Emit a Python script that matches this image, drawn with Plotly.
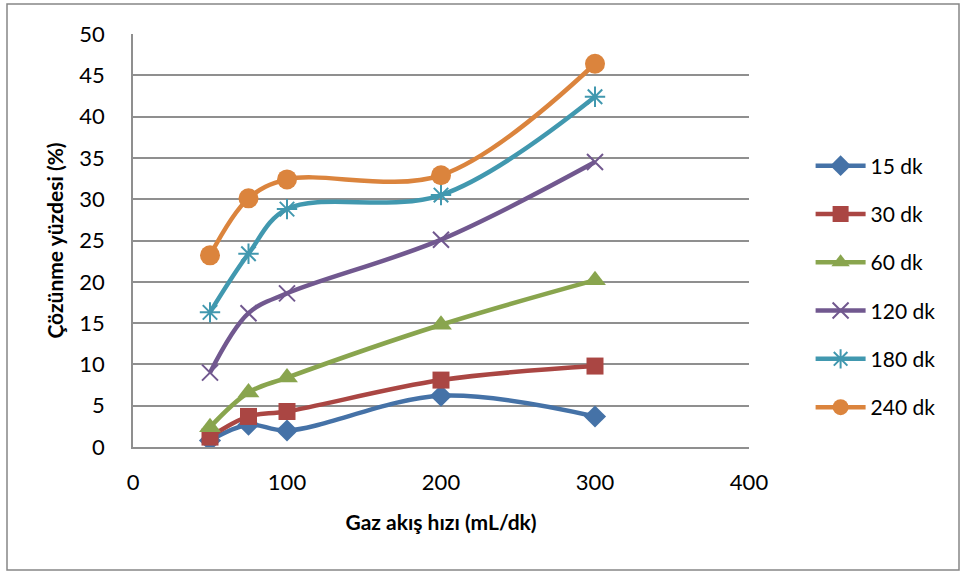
import plotly.graph_objects as go

x_vals = [50, 75, 100, 200, 300]
series_names = ["15 dk", "30 dk", "60 dk", "120 dk", "180 dk", "240 dk"]
y_15 = [0.8, 2.7, 2.0, 6.2, 3.7]
y_30 = [1.2, 3.7, 4.3, 8.1, 9.8]
y_60 = [2.4, 6.6, 8.4, 14.8, 20.2]
y_120 = [9.0, 16.2, 18.6, 25.1, 34.5]
y_180 = [16.3, 23.4, 28.8, 30.5, 42.4]
y_240 = [23.2, 30.1, 32.4, 32.9, 46.4]

colors = ["#4572A7", "#AA4643", "#89A54E", "#71588F", "#4198AF", "#DB843D"]
symbols = ["diamond", "square", "triangle-up", "x-thin-open", "asterisk-open", "circle"]
sizes = [17, 17, 19, 16, 17, 20]

fig = go.Figure()
for i, (name, ys) in enumerate(zip(series_names, [y_15, y_30, y_60, y_120, y_180, y_240])):
    open_sym = symbols[i].endswith("open")
    fig.add_trace(go.Scatter(
        x=x_vals, y=ys, name=name, mode="lines+markers",
        legendgroup=name,
        line=dict(color=colors[i], width=4.5, shape="spline", smoothing=1.0),
        marker=dict(symbol=symbols[i], size=sizes[i], color=colors[i],
                    line=dict(color=colors[i], width=2 if open_sym else 0)),
    ))

font_family = "Lato, 'Open Sans', sans-serif"
fig.update_layout(
    width=960, height=571,
    margin=dict(l=133, r=211, t=34, b=124),
    paper_bgcolor="white", plot_bgcolor="white",
    font=dict(family=font_family, size=22, color="black"),
    showlegend=True,
    legend=dict(x=1.1, y=0.73, xanchor="left", yanchor="top",
                font=dict(size=21, family=font_family),
                tracegroupgap=18, itemwidth=50, bgcolor="rgba(0,0,0,0)"),
    xaxis=dict(range=[0, 400], dtick=100, showgrid=False, zeroline=False,
               showline=True, linecolor="#8f8f8f", linewidth=1.5,
               ticks="", tickfont=dict(size=22), ticklabelstandoff=15,
               title=dict(text="<b>Gaz akış hızı (mL/dk)</b>", font=dict(size=21), standoff=21)),
    yaxis=dict(range=[0, 50], dtick=5, showgrid=True, gridcolor="#8f8f8f", gridwidth=1.5,
               zeroline=False, showline=True, linecolor="#8f8f8f", linewidth=1.5,
               ticks="", tickfont=dict(size=22), ticklabelstandoff=22,
               title=dict(text="<b>Çözünme yüzdesi (%)</b>", font=dict(size=21), standoff=10)),
    shapes=[
        dict(type="rect", xref="paper", yref="paper",
             x0=(7 - 133) / 616, x1=(959 - 133) / 616,
             y0=(447 - 570) / 413, y1=(447 - 4) / 413,
             line=dict(color="#868686", width=1.5), fillcolor="rgba(0,0,0,0)", layer="below"),
    ],
)

fig.write_html("out.html")
